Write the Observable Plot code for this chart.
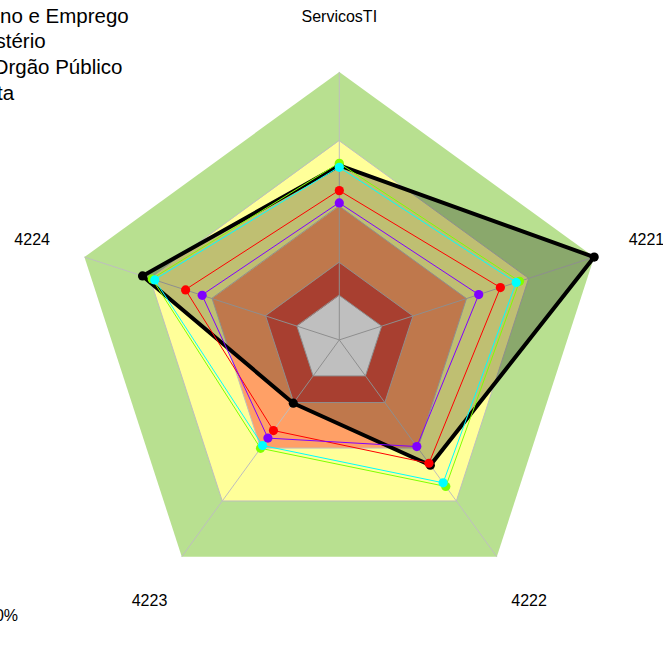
<!DOCTYPE html>
<html>
<head>
<meta charset="utf-8">
<script src="https://cdn.jsdelivr.net/npm/d3@7"></script>
<script src="https://cdn.jsdelivr.net/npm/@observablehq/plot@0.6"></script>
<style>
  html, body { margin: 0; padding: 0; background: #fff; overflow: hidden; }
  #chart { width: 663px; height: 666px; }
</style>
</head>
<body>
<div id="chart"></div>
<script>
// ---- data ----
const axes = ["ServicosTI", "4221", "4222", "4223", "4224"];
const seriesNames = ["Série A", "Série B", "Série C", "Série D", "Série E"];
const valuesBlack  = [0.651, 1.000, 0.578, 0.292, 0.772];
const valuesGreen  = [0.659, 0.707, 0.676, 0.500, 0.734];
const valuesCyan   = [0.644, 0.694, 0.659, 0.487, 0.724];
const valuesRed    = [0.557, 0.632, 0.569, 0.418, 0.603];
const valuesPurple = [0.511, 0.547, 0.492, 0.453, 0.538];
const bandLevels = [1.000, 0.743, 0.499, 0.289, 0.166];
const legendLabels = ["no e Emprego", "stério", "Orgão Público", "ta"];
const footLabel = "0%";

// ---- styles / layout ----
const W = 663, H = 666, CX = 338.8, CY = 339.4, R = 268;
const bandColors = ["#B8E090", "#FFFF99", "#FFA066", "#E05540", "#FFFFFF"];
const seriesColors = ["#000000", "#80FF00", "#00FFFF", "#FF0000", "#8000FF"];
const seriesValues = [valuesBlack, valuesGreen, valuesCyan, valuesRed, valuesPurple];
const font = "Liberation Sans, Arial, sans-serif";
const legendDx = [-0.5, -5, -8, -3.5];

const ang = i => Math.PI / 2 - i * 2 * Math.PI / 5;
const polar = (v, i) => ({x: v * Math.cos(ang(i)), y: v * Math.sin(ang(i))});

const bandRows = bandLevels.flatMap((lv, b) =>
  axes.map((a, i) => ({band: b, axis: a, ...polar(lv, i)})));
const seriesRows = seriesValues.flatMap((vals, s) =>
  vals.map((v, i) => ({series: seriesNames[s], si: s, axis: axes[i], value: v, ...polar(v, i)})));

const marks = [];
bandLevels.forEach((lv, b) => {
  marks.push(Plot.line(bandRows.filter(d => d.band === b), {
    x: "x", y: "y", curve: "linear-closed",
    fill: bandColors[b], stroke: "#BEBEBE", strokeWidth: b === 0 ? 0 : 1
  }));
});
marks.push(Plot.link(axes, {
  x1: 0, y1: 0,
  x2: (d, i) => Math.cos(ang(i)), y2: (d, i) => Math.sin(ang(i)),
  stroke: "#BEBEBE", strokeWidth: 1
}));
seriesNames.forEach((name, s) => {
  const rows = seriesRows.filter(d => d.si === s);
  marks.push(Plot.line(rows, {
    x: "x", y: "y", curve: "linear-closed",
    fill: s === 0 ? "#000000" : "none", fillOpacity: s === 0 ? 0.25 : 0,
    stroke: seriesColors[s], strokeWidth: s === 0 ? 4 : 1
  }));
  marks.push(Plot.dot(rows, {x: "x", y: "y", r: 4.6, fill: seriesColors[s], stroke: "none"}));
});
marks.push(Plot.text(axes, {
  x: (d, i) => 1.205 * Math.cos(ang(i)), y: (d, i) => 1.205 * Math.sin(ang(i)),
  text: d => d, fontSize: 16, fontFamily: font, fill: "#000",
  textAnchor: "middle", lineAnchor: "middle"
}));
legendLabels.forEach((t, i) => {
  marks.push(Plot.text([t], {
    frameAnchor: "top-left", text: d => d, textAnchor: "start", lineAnchor: "middle",
    dx: legendDx[i], dy: 15.6 + i * 25.7, fontSize: 20.5, fontFamily: font, fill: "#000"
  }));
});
marks.push(Plot.text([footLabel], {
  frameAnchor: "bottom-left", text: d => d, textAnchor: "end", lineAnchor: "middle",
  dx: 17.5, dy: -51, fontSize: 16, fontFamily: font, fill: "#000"
}));

const chart = Plot.plot({
  width: W, height: H, margin: 0,
  x: {domain: [-CX / R, (W - CX) / R], axis: null},
  y: {domain: [-(H - CY) / R, CY / R], axis: null},
  style: {background: "#fff", overflow: "hidden"},
  marks
});
document.getElementById("chart").appendChild(chart);
</script>
</body>
</html>
